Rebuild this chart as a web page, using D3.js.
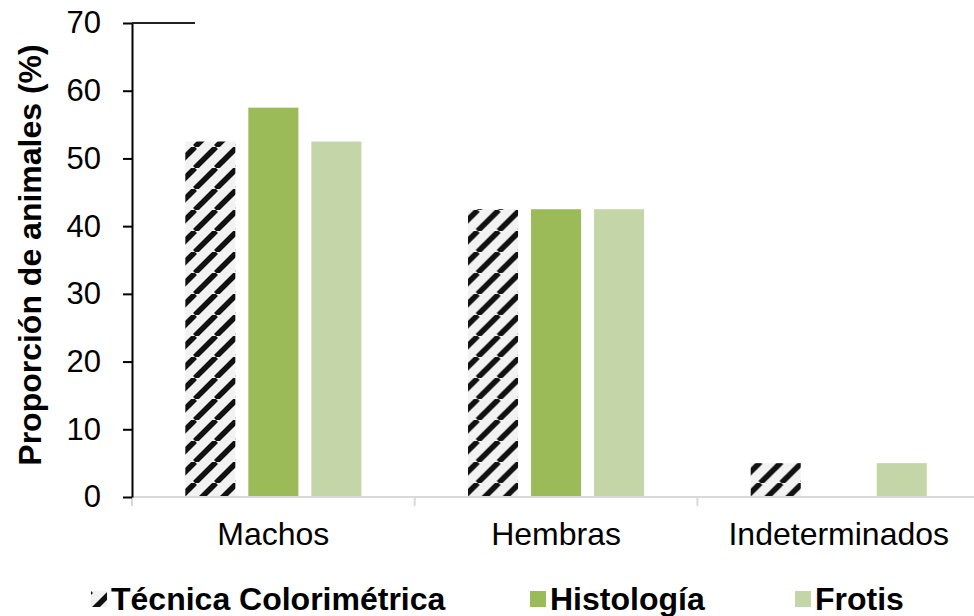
<!DOCTYPE html>
<html>
<head>
<meta charset="utf-8">
<script src="https://cdn.jsdelivr.net/npm/d3@7"></script>
<style>
  html, body { margin: 0; padding: 0; background: #fff; }
  svg { display: block; font-family: "Liberation Sans", Arial, sans-serif; }
</style>
</head>
<body>
<svg id="chart" width="974" height="616"></svg>
<script>
// Sex classification by technique (percentage of animals)
const categories = ["Machos", "Hembras", "Indeterminados"];
const seriesNames = ["Técnica Colorimétrica", "Histología", "Frotis"];
const tecnica = [52.5, 42.5, 5];
const histologia = [57.5, 42.5, 0];
const frotis = [52.5, 42.5, 5];
const yTicks = [0, 10, 20, 30, 40, 50, 60, 70];

const seriesValues = [tecnica, histologia, frotis];
const fills = ["url(#hatch)", "#9bbb59", "#c4d6a7"];

const svg = d3.select("#chart");
const margin = { left: 132, top: 23, bottom: 497 };
const bandW = 282.7;

// hatch pattern for the colorimetric series
const defs = svg.append("defs");
const pat = defs.append("pattern")
  .attr("id", "hatch")
  .attr("patternUnits", "userSpaceOnUse")
  .attr("width", 21).attr("height", 21);
pat.append("rect").attr("width", 21).attr("height", 21).attr("fill", "#f2f2f2");
pat.selectAll("line").data([-21, 0, 21]).join("line")
  .attr("x1", d => d).attr("y1", 21)
  .attr("x2", d => d + 21).attr("y2", 0)
  .attr("stroke", "#111").attr("stroke-width", 5.5);

const x0 = d3.scaleBand()
  .domain(categories)
  .range([margin.left, margin.left + bandW * categories.length])
  .padding(0);

const x1 = d3.scaleBand()
  .domain(seriesNames)
  .range([0, bandW])
  .paddingInner(0.206)
  .paddingOuter(0.846);

const y = d3.scaleLinear().domain([0, 70]).range([margin.bottom, margin.top]);

// bars
const groups = svg.append("g").selectAll("g")
  .data(categories)
  .join("g")
  .attr("transform", d => `translate(${x0(d)},0)`);

groups.selectAll("rect")
  .data((c, ci) => seriesNames.map((s, si) => ({ s, si, v: seriesValues[si][ci] })))
  .join("rect")
  .filter(d => d.v > 0)
  .attr("x", d => x1(d.s))
  .attr("width", x1.bandwidth())
  .attr("y", d => y(d.v))
  .attr("height", d => y(0) - y(d.v))
  .attr("fill", d => fills[d.si]);

// x axis (light grey baseline with category dividers)
const xAxis = svg.append("g").attr("transform", `translate(0,${margin.bottom})`);
xAxis.append("line")
  .attr("x1", margin.left).attr("x2", margin.left + bandW * categories.length)
  .attr("stroke", "#d9d9d9").attr("stroke-width", 2);
xAxis.selectAll("line.div")
  .data(d3.range(categories.length + 1))
  .join("line").attr("class", "div")
  .attr("x1", i => margin.left + i * bandW).attr("x2", i => margin.left + i * bandW)
  .attr("y1", 0).attr("y2", 9)
  .attr("stroke", "#d9d9d9").attr("stroke-width", 2);
xAxis.selectAll("text")
  .data(categories)
  .join("text")
  .attr("x", d => x0(d) + x0.bandwidth() / 2)
  .attr("y", 48)
  .attr("text-anchor", "middle")
  .attr("font-size", 32)
  .attr("fill", "#000")
  .text(d => d);

// y axis
const yAxis = svg.append("g").attr("transform", `translate(${margin.left},0)`)
  .call(d3.axisLeft(y).tickValues(yTicks).tickSize(9).tickSizeOuter(0).tickPadding(22));
yAxis.select(".domain").attr("stroke", "#000").attr("stroke-width", 2);
yAxis.selectAll(".tick line").attr("stroke", "#000").attr("stroke-width", 2);
yAxis.selectAll(".tick text")
  .attr("font-size", 31)
  .attr("font-family", "Liberation Sans, Arial, sans-serif")
  .attr("fill", "#000");

// short top border segment at 70
svg.append("line")
  .attr("x1", margin.left).attr("x2", 195)
  .attr("y1", y(70)).attr("y2", y(70))
  .attr("stroke", "#222").attr("stroke-width", 2);

// y axis title
svg.append("text")
  .attr("transform", `translate(41,255) rotate(-90)`)
  .attr("text-anchor", "middle")
  .attr("font-size", 32)
  .attr("font-weight", "bold")
  .text("Proporción de animales (%)");

// legend
const legendItems = [
  { name: seriesNames[0], fill: fills[0], x: 91 },
  { name: seriesNames[1], fill: fills[1], x: 530 },
  { name: seriesNames[2], fill: fills[2], x: 795 }
];
const lg = svg.append("g").selectAll("g")
  .data(legendItems)
  .join("g")
  .attr("transform", d => `translate(${d.x},591)`);
lg.append("rect")
  .attr("width", 16).attr("height", 16)
  .attr("fill", d => d.fill);
lg.append("text")
  .attr("x", 20).attr("y", 19)
  .attr("font-size", 32)
  .attr("font-weight", "bold")
  .text(d => d.name);
</script>
</body>
</html>
